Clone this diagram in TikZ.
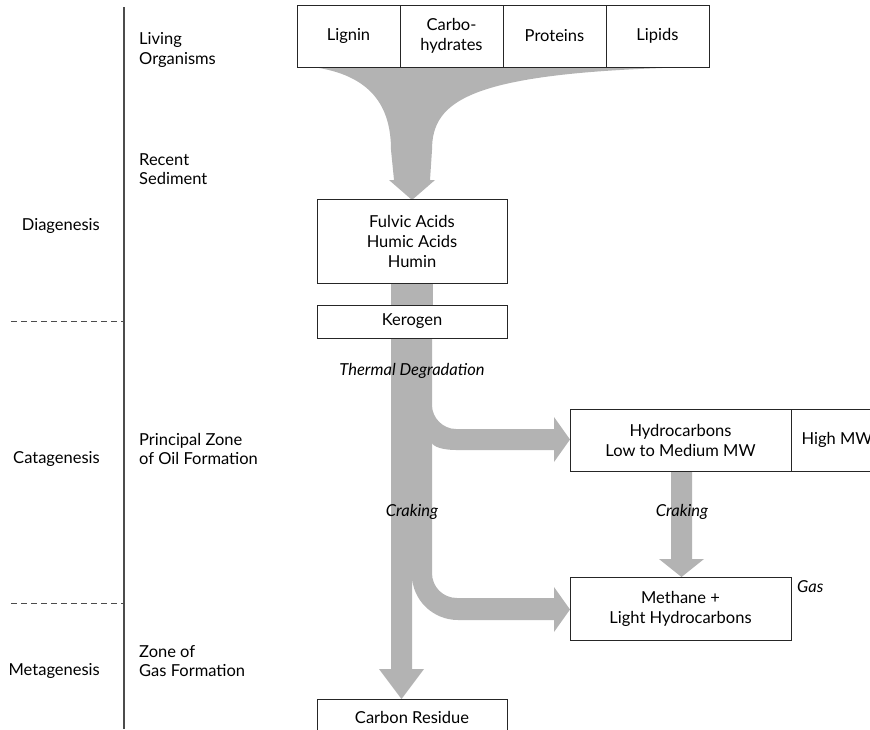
\documentclass[tikz,border=0pt]{standalone}
\usepackage{fontspec}
\setmainfont{Lato}
\definecolor{flowgray}{HTML}{B3B3B3}
\tikzset{
  box/.style={draw=black!85, line width=1pt, fill=white, inner sep=0pt, align=center,
    font=\fontsize{16.5}{20}\selectfont},
  zone/.style={anchor=west, align=left, inner sep=0pt, font=\fontsize{16.5}{19.5}\selectfont},
  stage/.style={anchor=east, inner sep=0pt, font=\fontsize{16.5}{19.5}\selectfont},
  proc/.style={inner sep=0pt, font=\fontsize{16.5}{19.5}\selectfont\itshape},
  flow/.style={fill=flowgray, draw=none}
}
\begin{document}
\begin{tikzpicture}[x=1pt,y=-1pt]
    \useasboundingbox (0,0) rectangle (870,729);
    % gray flows
    \fill[flow] (313,67) .. controls (370,75) and (391,105) .. (391,150) -- (394,180) -- (389,180)
        -- (412,200) -- (435,180) -- (430,180) -- (432,150)
        .. controls (432,100) and (470,72) .. (697,67) -- cycle;
    \fill[flow] (391,280) rectangle (433,310);
    \fill[flow] (391,335) -- (432,335) -- (432,405) .. controls (432,418) and (443,429) .. (456,429)
        -- (554,429) -- (554,417) -- (570,439.5) -- (554,462) -- (554,450) -- (456,450)
        .. controls (444,450) and (432,447) .. (432,442) -- (432,573)
        .. controls (432,587) and (443,598) .. (457,598) -- (554,598) -- (554,587) -- (570,609.5)
        -- (554,632) -- (554,620) -- (458,620) .. controls (433,620) and (412,600) .. (412,575)
        -- (412,669) -- (424,669) -- (401.5,699) -- (379,669) -- (391,669) -- cycle;
    \fill[flow] (671,468) -- (692,468) -- (692,559) -- (704,559) -- (681.5,577) -- (659,559)
        -- (671,559) -- cycle;
    % time axis
    \draw[line width=1.5pt, black!70] (124,7) -- (124,729);
    \draw[black!70, line width=0.8pt, dash pattern=on 6pt off 4pt] (11,321) -- (124,321);
    \draw[black!70, line width=0.8pt, dash pattern=on 6pt off 4pt] (11,603) -- (124,603);
    \node[stage] (diag) at (100,226) {Diagenesis};
    \node[stage] (catag) at (100,459) {Catagenesis};
    \node[stage] (metag) at (100,671) {Metagenesis};
    \node[zone] (living) at (139,50) {Living\\Organisms};
    \node[zone] (recent) at (139,169) {Recent\\Sediment};
    \node[zone] (principal) at (139,449) {Principal Zone\\of Oil Formation};
    \node[zone] (gaszone) at (139,661) {Zone of\\Gas Formation};
    % boxes
    \node[box, minimum width=103pt, minimum height=62pt] (lignin) at (348.5,36) {Lignin};
    \node[box, minimum width=103pt, minimum height=62pt] (carbo) at (451.5,36) {Carbo-\\hydrates};
    \node[box, minimum width=103pt, minimum height=62pt] (proteins) at (554.5,36) {Proteins};
    \node[box, minimum width=103pt, minimum height=62pt] (lipids) at (657.5,36) {Lipids};
    \node[box, minimum width=190pt, minimum height=84pt] (fulvic) at (412,241) {Fulvic Acids\\Humic Acids\\Humin};
    \node[box, minimum width=190pt, minimum height=33pt] (kerogen) at (412,321.5) {Kerogen};
    \node[box, minimum width=190pt, minimum height=36pt] (residue) at (412,717) {Carbon Residue};
    \node[box, minimum width=221pt, minimum height=62pt] (hydro) at (680.5,440) {Hydrocarbons\\Low to Medium MW};
    \node[box, minimum width=92pt, minimum height=62pt] (highmw) at (837,440) {High MW};
    \node[box, minimum width=221pt, minimum height=63pt] (methane) at (680.5,608.5) {Methane +\\Light Hydrocarbons};
    % process labels
    \node[proc] (thermal) at (412,371) {Thermal Degradation};
    \node[proc] (crakl) at (412,512) {Craking};
    \node[proc] (crakr) at (682,512) {Craking};
    \node[proc, anchor=west] (gas) at (797,587) {Gas};
\end{tikzpicture}
\end{document}
